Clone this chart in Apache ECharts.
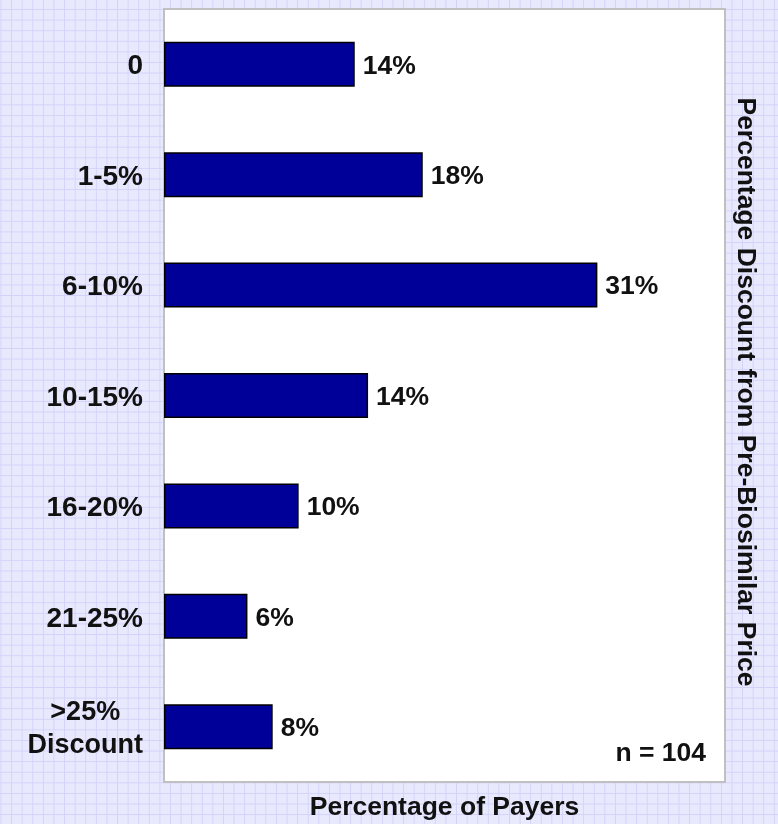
<!DOCTYPE html>
<html>
<head>
<meta charset="utf-8">
<script src="https://cdn.jsdelivr.net/npm/echarts@6/dist/echarts.min.js"></script>
<style>
html,body{margin:0;padding:0;}
#chart{
	width:778px;height:824px;
	background-color:#e9e9fd;
	background-image:
		linear-gradient(to right, #d3d3fa 1px, transparent 1px),
		linear-gradient(to bottom, #d3d3fa 1px, transparent 1px);
	background-size:10.6px 10.6px;
	background-position:0.5px 9px;
}
</style>
</head>
<body>
<div id="chart"></div>
<script>
// 折扣区间
var categories = ['0', '1-5%', '6-10%', '10-15%', '16-20%', '21-25%', '>25%\nDiscount'];
// 每个区间的付款人比例
var values = [13.6, 18.45, 30.9, 14.55, 9.6, 5.95, 7.75];
// 柱子上显示的文字
var valueLabels = ['14%', '18%', '31%', '14%', '10%', '6%', '8%'];

var fontFamily = '"Liberation Sans", Arial, sans-serif';

var myChart = echarts.init(document.getElementById('chart'));

var option = {
	animation: false,
	grid: {
		left: 164,
		top: 9,
		right: 53,
		bottom: 42,
		outerBoundsMode: 'none',
		containLabel: false,
		show: true,
		backgroundColor: '#ffffff',
		borderColor: '#c0c0c0',
		borderWidth: 2
	},
	xAxis: {
		type: 'value',
		min: 0,
		max: 40,
		name: 'Percentage of Payers',
		nameLocation: 'middle',
		nameGap: 12,
		nameTextStyle: {
			color: '#111',
			fontSize: 26.5,
			fontWeight: 'bold',
			fontFamily: fontFamily,
			verticalAlign: 'top'
		},
		axisLine: { show: false },
		axisTick: { show: false },
		axisLabel: { show: false },
		splitLine: { show: false }
	},
	yAxis: {
		type: 'category',
		inverse: true,
		data: categories,
		axisLine: { show: false },
		axisTick: { show: false },
		splitLine: { show: false },
		axisLabel: {
			margin: 21,
			color: '#111',
			fontSize: 28,
			fontWeight: 'bold',
			fontFamily: fontFamily,
			lineHeight: 33,
			padding: [5, 0, 0, 0],
			formatter: function (value) {
				var lines = value.split('\n');
				if (lines.length > 1) {
					return lines.map(function (l) { return '{c|' + l + '}'; }).join('\n');
				}
				return value;
			},
			rich: {
				c: {
					align: 'center',
					color: '#111',
					fontSize: 27,
					fontWeight: 'bold',
					fontFamily: fontFamily,
					lineHeight: 33
				}
			}
		}
	},
	graphic: [
		{
			type: 'text',
			x: 745,
			y: 392,
			rotation: -Math.PI / 2,
			style: {
				text: 'Percentage Discount from Pre-Biosimilar Price',
				fill: '#111',
				fontSize: 26.5,
				fontWeight: 'bold',
				fontFamily: fontFamily,
				align: 'center',
				verticalAlign: 'middle'
			}
		},
		{
			type: 'text',
			right: 72,
			top: 740,
			style: {
				text: 'n = 104',
				fill: '#111',
				fontSize: 26.5,
				fontWeight: 'bold',
				fontFamily: fontFamily
			}
		}
	],
	series: [{
		type: 'bar',
		data: values,
		barWidth: 45,
		itemStyle: {
			color: '#000099',
			borderColor: '#000000',
			borderWidth: 1.5
		},
		label: {
			show: true,
			position: 'right',
			distance: 8,
			offset: [0, 2],
			color: '#111',
			fontSize: 26.5,
			fontWeight: 'bold',
			fontFamily: fontFamily,
			formatter: function (p) {
				return valueLabels[p.dataIndex];
			}
		}
	}]
};

myChart.setOption(option);
</script>
</body>
</html>
